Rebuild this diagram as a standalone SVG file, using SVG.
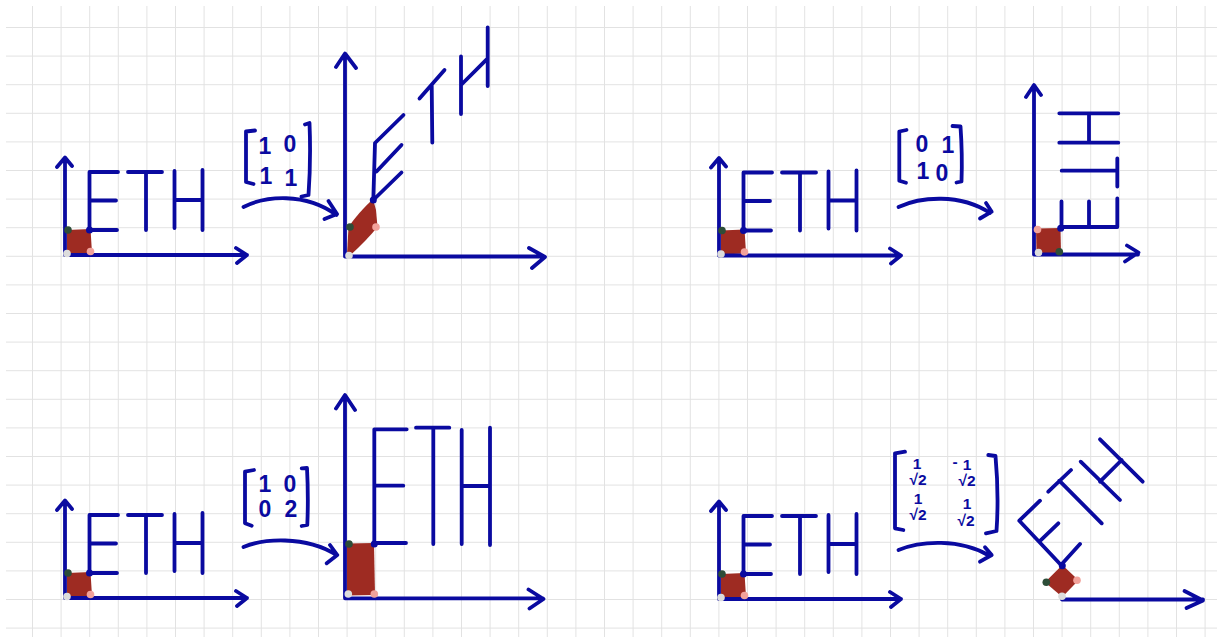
<svg xmlns="http://www.w3.org/2000/svg" xmlns:xlink="http://www.w3.org/1999/xlink" width="1223" height="643" viewBox="0 0 1223 643">
<style>
.s{fill:none;stroke:#0a0aa0;stroke-width:3.8;stroke-linecap:round;stroke-linejoin:round}
.sq{fill:#9e2b22}
.dg{fill:#2d4d38}.dp{fill:#f2a29b}.dw{fill:#dcdcdc}.db{fill:#0a0aa0}
.m{font-family:"Liberation Sans",Arial,sans-serif;font-weight:bold;fill:#0a0aa0;text-anchor:middle;font-size:23px}
.f{font-family:"Liberation Sans",Arial,sans-serif;fill:#0a0aa0;text-anchor:middle;font-size:15.5px;font-weight:bold}
</style>
<defs>
<pattern id="grid" patternUnits="userSpaceOnUse" x="32" y="27" width="28.6" height="28.6">
<rect x="0" y="0" width="1" height="28.6" fill="#e2e2e2"/>
<rect x="0" y="0" width="28.6" height="1" fill="#e2e2e2"/>
</pattern>
<g id="eth-orig">
<path class="sq" d="M67 230 L90.5 229 L92 253 L67 254 Z"/>
<path class="s" d="M65 255 V158 M57 167 L65 157.5 L72 166 M65 255 H247 M236 248 L247 255 L237 263"/>
<path class="s" d="M118 172 H89.5 V230 H117 M89.5 200.5 H116"/>
<path class="s" d="M128 172 H162 M146 172 V230"/>
<path class="s" d="M174.5 171 V228 M202.5 170 V230 M174.5 200 H202.5"/>
<circle class="dg" cx="68" cy="230" r="3.8"/>
<circle class="dw" cx="67" cy="253.5" r="3.8"/>
<circle class="dp" cx="90.5" cy="251.5" r="3.8"/>
<circle class="db" cx="89.5" cy="230" r="3.5"/>
</g>
</defs>
<rect x="6" y="6" width="1211" height="631" fill="url(#grid)"/>

<!-- Panel 1: shear -->
<g id="shear-original"><use xlink:href="#eth-orig" href="#eth-orig"/></g>
<g id="shear-matrix">
<path class="s" d="M255 130.5 L246 131.5 L246 182 L253.5 184 M305 124.5 L309.5 123 Q311 160 308.5 195 L301.5 196.5"/>
<text class="m" x="265" y="154">1</text><text class="m" x="290" y="152">0</text>
<text class="m" x="266" y="184">1</text><text class="m" x="291" y="186">1</text>
</g>
<g id="shear-result">
<path class="sq" d="M347 255 L348.5 227 Q358 213 373 199 L376 210 L377.5 227 Q366 241 350 255.5 Z"/>
<path class="s" d="M345 256.5 V54 M336 67 L345 53.5 L356 68 M345 256.5 H544 M529 248 L545 257 L532 268"/>
<path class="s" d="M373.3 200 L375 143 L403.5 115 M376.5 171.5 L401.5 145 M373.3 200 L401.5 172.5"/>
<path class="s" d="M419.5 98.5 L444.5 70 M431.7 85 L432.3 142.5"/>
<path class="s" d="M461 56.5 V114 M487.7 27.5 V86 M461 85 L487.7 58.3"/>
<circle class="dg" cx="350" cy="227" r="3.8"/>
<circle class="dp" cx="376" cy="227" r="3.8"/>
<circle class="dw" cx="349" cy="255.5" r="3.8"/>
<circle class="db" cx="373.3" cy="200" r="3.5"/>
</g>

<!-- Panel 2: swap -->
<g id="swap-original"><use xlink:href="#eth-orig" href="#eth-orig" transform="translate(654,0.5)"/></g>
<g id="swap-matrix">
<path class="s" d="M906.5 130 L899.3 131.5 V180.7 L906 182.7 M952.5 126 L960.5 126.5 Q962.5 155 961.5 181.5 L956.5 182.5"/>
<text class="m" x="922" y="152">0</text><text class="m" x="948" y="153">1</text>
<text class="m" x="923" y="179">1</text><text class="m" x="942" y="181">0</text>
</g>
<g id="swap-result">
<path class="sq" d="M1036 228.5 L1060.5 228 L1061 254 L1036.5 254.5 Z"/>
<path class="s" d="M1034 254.5 V85.5 M1026 97 L1034 85 L1041 95 M1034 254.5 H1138 M1127 245.5 L1138.5 252.5 L1125 261.5"/>
<path class="s" d="M1060.7 227 H1117.3 M1061.5 227 V201.5 M1089 227 V201.5 M1117.3 227 V198.5"/>
<path class="s" d="M1117.3 158.5 V186.5 M1061.7 170.7 H1117.3"/>
<path class="s" d="M1059.3 113.3 H1118.3 M1059.3 142.7 H1118.3 M1089 113.3 V142.7"/>
<circle class="dp" cx="1037.5" cy="229.5" r="3.8"/>
<circle class="dw" cx="1038.5" cy="252.5" r="3.8"/>
<circle class="dg" cx="1059.3" cy="251.7" r="3.8"/>
<circle class="db" cx="1060.7" cy="228.3" r="3.5"/>
</g>

<!-- Panel 3: scale -->
<g id="scale-original"><use xlink:href="#eth-orig" href="#eth-orig" transform="translate(0,343)"/></g>
<g id="scale-matrix">
<path class="s" d="M254 470 L245 471.7 V523.3 L251.7 525.7 M301.7 468.3 L307 468 Q308.5 497 307.3 525 L301.7 526"/>
<text class="m" x="265" y="492">1</text><text class="m" x="290" y="492">0</text>
<text class="m" x="265" y="517">0</text><text class="m" x="291" y="517">2</text>
</g>
<g id="scale-result">
<path class="sq" d="M346.5 543.5 L374 543 L375 595 L347 595.5 Z"/>
<path class="s" d="M345 598.3 V395.5 M336 408.5 L345 395 L355 410 M345 598.3 H543 M528.5 589.5 L543.5 599 L529.5 608.5"/>
<path class="s" d="M406.7 429.3 H374.3 V544 M374.3 485.7 H403.3 M374.3 543 H406"/>
<path class="s" d="M416 427.7 H449.3 M433.3 427.7 V544"/>
<path class="s" d="M461.7 430 V544 M490 427.7 V545 M461.7 486 H490"/>
<circle class="dg" cx="349" cy="544" r="3.8"/>
<circle class="dw" cx="348.3" cy="594" r="3.8"/>
<circle class="dp" cx="374.3" cy="594" r="3.8"/>
<circle class="db" cx="374.3" cy="544" r="3.5"/>
</g>

<!-- Panel 4: rotation -->
<g id="rotate-original"><use xlink:href="#eth-orig" href="#eth-orig" transform="translate(654,344)"/></g>
<g id="rotate-matrix">
<path class="s" d="M905 451.7 L895 453.3 V528.3 L903.3 530 M988.3 455 L995.5 456 Q999 495 996.5 531 L986 533.3"/>
<text class="f" x="917" y="469">1</text>
<text class="f" x="918" y="485">√2</text>
<text class="f" x="955" y="467">-</text>
<text class="f" x="967" y="470">1</text>
<text class="f" x="967" y="486">√2</text>
<text class="f" x="918" y="504">1</text>
<text class="f" x="918" y="520">√2</text>
<text class="f" x="967" y="509">1</text>
<text class="f" x="966" y="526">√2</text>
</g>
<g id="rotate-result">
<path class="sq" d="M1062.3 565 L1078.5 580.3 L1062.3 597 L1045 582.3 Z"/>
<path class="s" d="M1062 599.5 H1203 M1184.5 591 L1203 600.5 L1186.5 608"/>
<path class="s" d="M1061 565 L1019.3 520.7 L1040 500.7 M1039.3 541.7 L1058.3 523.3 M1061 565 L1080 544"/>
<path class="s" d="M1048.3 491.7 L1071 470 M1059.3 480.7 L1101.7 523.3"/>
<path class="s" d="M1080.7 461.7 L1120 500 M1100 439.3 L1142.7 481.7 M1100 481.7 L1121.7 460"/>
<circle class="dg" cx="1046.3" cy="582.3" r="3.8"/>
<circle class="dp" cx="1077" cy="580.3" r="3.8"/>
<circle class="dw" cx="1062" cy="596.3" r="3.8"/>
<circle class="db" cx="1062.3" cy="565.7" r="3.5"/>
</g>

<g id="connectors">
<path class="s" d="M243.5 207 C265 196 305 192 336.5 215 M328.5 201 L337 214 L324.5 219"/>
<path class="s" d="M898.5 207 C920 197 960 193 990 213 M986 203 L991.7 211.7 L980 218.5"/>
<path class="s" d="M243.5 547 C262 539 305 535 336.5 555 M330 545 L337.3 555 L326.7 563.3"/>
<path class="s" d="M898.5 550 C920 541 960 538 990 556 M985 547.3 L991.7 555 L980 561.7"/>
</g>
</svg>
